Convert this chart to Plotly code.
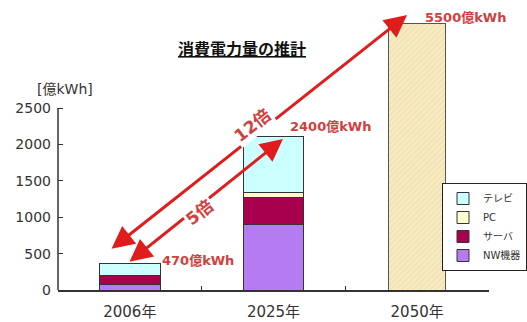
import plotly.graph_objects as go

categories = ["2006年", "2025年", "2050年"]
nw = [75, 893, 0]
server = [125, 384, 0]
pc = [5, 60, 0]
tv = [160, 778, 0]
total_2050 = [None, None, 3654]
series_names = ["NW機器", "サーバ", "PC", "テレビ"]
series_colors = ["#b57cf2", "#a8004e", "#ffffcc", "#ccffff"]
y_ticks = [0, 500, 1000, 1500, 2000, 2500]
labels = ["470億kWh", "2400億kWh", "5500億kWh"]

fig = go.Figure()
for name, vals, col in zip(series_names, [nw, server, pc, tv], series_colors):
    fig.add_trace(go.Bar(x=categories, y=vals, name=name, width=0.42,
                         marker=dict(color=col, line=dict(color="#333333", width=1))))
fig.add_trace(go.Bar(x=categories, y=total_2050, name="2050", showlegend=False, width=0.40,
                     marker=dict(color="#f8ebc2", line=dict(color="#555555", width=1),
                                 pattern=dict(shape="/", fgcolor="#e6d39c", bgcolor="#f8ebc2",
                                              size=4, solidity=0.3))))

red = "#e01c1c"
txtred = "#d04040"
ann = []
# double-headed arrows
ann.append(dict(x=1.93, y=3777, ax=-0.138, ay=549, xref="x", yref="y", axref="x", ayref="y",
                text="", showarrow=True, arrowhead=2, startarrowhead=2, arrowside="end+start",
                arrowsize=1.5, startarrowsize=1.5, arrowwidth=3, arrowcolor=red))
ann.append(dict(x=1.066, y=2074, ax=-0.013, ay=371, xref="x", yref="y", axref="x", ayref="y",
                text="", showarrow=True, arrowhead=2, startarrowhead=2, arrowside="end+start",
                arrowsize=1.5, startarrowsize=1.5, arrowwidth=3, arrowcolor=red))
ann.append(dict(x=0.857, y=2266, xref="x", yref="y", text="<b>12倍</b>", showarrow=False,
                textangle=-38, bgcolor="white",
                font=dict(family="DejaVu Sans, Noto Sans CJK JP", size=17, color=txtred)))
ann.append(dict(x=0.488, y=1071, xref="x", yref="y", text="<b>5倍</b>", showarrow=False,
                textangle=-38, bgcolor="white",
                font=dict(family="DejaVu Sans, Noto Sans CJK JP", size=17, color=txtred)))
# value labels
label_pos = [(categories[0], 412, 30), (categories[1], 2250, 14), (categories[2], 3740, 6)]
for (cx, cy, xs), t in zip(label_pos, labels):
    ann.append(dict(x=cx, y=cy, xref="x", yref="y", text="<b>" + t + "</b>", showarrow=False,
                    xanchor="left", yanchor="middle", xshift=xs,
                    font=dict(family="DejaVu Sans, Noto Sans CJK JP", size=13, color=txtred)))
# title and unit
ann.append(dict(x=242 / 527, y=1 - 48 / 322, xref="paper", yref="paper",
                xanchor="center", yanchor="middle",
                text="<b><u>消費電力量の推計</u></b>", showarrow=False,
                font=dict(family="Noto Sans CJK JP", size=16, color="#111111")))
ann.append(dict(x=65 / 527, y=1 - 89 / 322, xref="paper", yref="paper",
                xanchor="center", yanchor="middle",
                text="[億kWh]", showarrow=False,
                font=dict(family="DejaVu Sans, Noto Sans CJK JP", size=14, color="#333333")))

fig.update_layout(
    width=527, height=322, margin=dict(l=0, r=0, t=0, b=0, autoexpand=False),
    paper_bgcolor="white", plot_bgcolor="white",
    barmode="stack", annotations=ann,
    showlegend=True,
    legend=dict(x=1, y=1 - 183 / 322, xanchor="right", yanchor="top",
                traceorder="reversed", bordercolor="#222222", borderwidth=1, bgcolor="white",
                font=dict(family="DejaVu Sans, Noto Sans CJK JP", size=10, color="#333333"),
                tracegroupgap=0, itemwidth=30),
    xaxis=dict(domain=[58 / 527, 489 / 527], range=[-0.5, 2.5], autorange=False,
               showline=True, linecolor="#333333", linewidth=1.5,
               ticks="inside", tickson="boundaries", ticklen=4, tickcolor="#333333",
               showgrid=False, ticklabelstandoff=7,
               tickfont=dict(family="DejaVu Sans, Noto Sans CJK JP", size=15, color="#333333")),
    yaxis=dict(domain=[32 / 322, 1], range=[0, 290 / 0.0728], autorange=False, tickvals=y_ticks,
               showline=False, ticks="inside", ticklen=5, tickcolor="#333333", showgrid=False,
               zeroline=False, ticklabelstandoff=6,
               tickfont=dict(family="DejaVu Sans", size=14, color="#333333")),
    shapes=[dict(type="line", xref="x domain", yref="y", x0=0, x1=0, y0=0, y1=2500,
                 line=dict(color="#333333", width=1.5))],
)

fig.write_html("out.html")
